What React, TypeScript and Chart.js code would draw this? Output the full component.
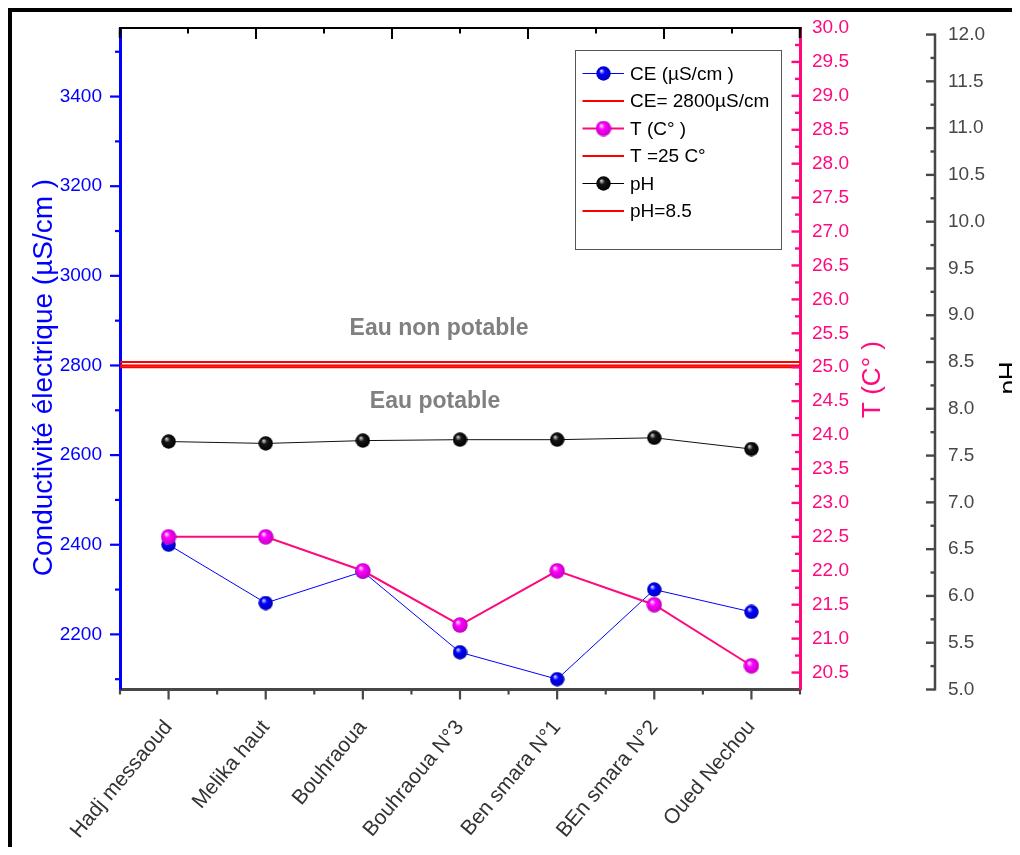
import { useEffect, useRef } from 'react';
import { Chart, registerables } from 'chart.js';

Chart.register(...registerables);

// Sampling sites along the x axis
const sites = [
  'Hadj messaoud',
  'Melika haut',
  'Bouhraoua',
  'Bouhraoua N°3',
  'Ben smara N°1',
  'BEn smara N°2',
  'Oued Nechou',
];

// Measured parameters per site
const ceValues = [2400, 2270, 2340, 2160, 2100, 2300, 2250];
const tempValues = [22.5, 22.5, 22.0, 21.2, 22.0, 21.5, 20.6];
const phValues = [7.65, 7.63, 7.66, 7.67, 7.67, 7.69, 7.57];

// Potability limits
const ceLimit = 2800;
const tempLimit = 25;
const phLimit = 8.5;

// Labelled tick values of the three vertical axes
const ceTicks = [2200, 2400, 2600, 2800, 3000, 3200, 3400];
const tempTicks = [20.5, 21.0, 21.5, 22.0, 22.5, 23.0, 23.5, 24.0, 24.5, 25.0, 25.5, 26.0, 26.5, 27.0, 27.5, 28.0, 28.5, 29.0, 29.5, 30.0];
const phTicks = [5.0, 5.5, 6.0, 6.5, 7.0, 7.5, 8.0, 8.5, 9.0, 9.5, 10.0, 10.5, 11.0, 11.5, 12.0];

// Legend entries
const legendLabels = ['CE (µS/cm )', 'CE= 2800µS/cm', 'T (C° )', 'T =25 C°', 'pH', 'pH=8.5'];

const FONT = '"Liberation Sans", Arial, sans-serif';
const BLUE = '#0000ff';
const PINK = '#ff0a7e';
const RED = '#ff0000';
const AXIS_GREY = '#474747';

function sphere(hi: string, body: string, edge: string, size: number) {
  const c = document.createElement('canvas');
  c.width = size;
  c.height = size;
  const g = c.getContext('2d')!;
  const r = size / 2;
  const grad = g.createRadialGradient(r * 0.7, r * 0.62, r * 0.05, r, r, r);
  grad.addColorStop(0, hi);
  grad.addColorStop(0.35, body);
  grad.addColorStop(1, edge);
  g.fillStyle = grad;
  g.beginPath();
  g.arc(r, r, r - 0.3, 0, Math.PI * 2);
  g.fill();
  return c;
}

function minorsBetween(majors: number[]) {
  const step = majors[1] - majors[0];
  const out: number[] = [majors[0] - step / 2];
  for (let i = 0; i < majors.length; i++) out.push(majors[i] + step / 2);
  return out;
}

// Fixed-size axis boxes so the plot area lands where it should
const fixWidth = (w: number) => (s: any) => {
  s.width = w;
  s.paddingTop = 0;
  s.paddingBottom = 0;
};

export default function App() {
  const ref = useRef<HTMLCanvasElement>(null);

  useEffect(() => {
    const canvas = ref.current!;
    Chart.defaults.font.family = FONT;

    const blueBall = sphere('#d8d8ff', '#0000ff', '#0000b0', 15);
    const pinkBall = sphere('#ffe0ff', '#ff00ff', '#c000c0', 16);
    const blackBall = sphere('#d0d0d0', '#151515', '#000000', 15);

    const pts = (vals: number[]) => vals.map((v, i) => ({ x: i, y: v }));
    const span = (v: number) => [
      { x: -0.5, y: v },
      { x: sites.length - 0.5, y: v },
    ];

    const decor = {
      id: 'decor',
      afterDraw(chart: any) {
        const { ctx, chartArea: a, scales } = chart;
        const sx = scales.x;
        const sCE = scales.y;
        const sT = scales.yT;
        const sPH = scales.yPH;
        ctx.save();

        const seg = (x1: number, y1: number, x2: number, y2: number, color: string, w: number) => {
          ctx.strokeStyle = color;
          ctx.lineWidth = w;
          ctx.beginPath();
          ctx.moveTo(x1, y1);
          ctx.lineTo(x2, y2);
          ctx.stroke();
        };

        // top frame line and corners
        seg(a.left - 1, a.top, a.right + 1.5, a.top, '#000', 2);
        seg(a.left, a.top, a.left, a.top + 10, '#000', 2.5);
        seg(a.right, a.top, a.right, a.top + 10, '#000', 2.5);

        // top axis ticks (ten equal divisions)
        for (let k = 1; k < 10; k++) {
          const px = sx.getPixelForValue(-0.5 + (k * sites.length) / 10);
          seg(px, a.top, px, a.top + (k % 2 === 0 ? 11 : 5.5), '#000', 2);
        }

        // bottom axis ticks
        sites.forEach((_, i) => {
          const px = sx.getPixelForValue(i);
          seg(px, a.bottom, px, a.bottom + 10, AXIS_GREY, 2.2);
        });
        for (let i = 0; i <= sites.length; i++) {
          const px = sx.getPixelForValue(i - 0.5);
          seg(px, a.bottom, px, a.bottom + 5, AXIS_GREY, 2.2);
        }

        // CE axis ticks (outward)
        ceTicks.forEach((v) => {
          const py = sCE.getPixelForValue(v);
          seg(a.left - 10, py, a.left, py, BLUE, 2.2);
        });
        minorsBetween(ceTicks).forEach((v) => {
          const py = sCE.getPixelForValue(v);
          if (py > a.top + 10 && py < a.bottom - 2) seg(a.left - 5, py, a.left, py, BLUE, 2.2);
        });

        // temperature axis ticks (inward)
        tempTicks.forEach((v) => {
          const py = sT.getPixelForValue(v);
          if (py > a.top + 10) seg(a.right - 8.5, py, a.right, py, PINK, 2.4);
        });
        minorsBetween(tempTicks).forEach((v) => {
          const py = sT.getPixelForValue(v);
          if (py > a.top + 10 && py < a.bottom - 4) seg(a.right - 5, py, a.right, py, PINK, 2.4);
        });

        // pH axis line and ticks
        const phX = sPH.left;
        const phTop = sPH.getPixelForValue(phTicks[phTicks.length - 1]);
        seg(phX, phTop - 1, phX, sPH.getPixelForValue(phTicks[0]) + 1, AXIS_GREY, 2.5);
        phTicks.forEach((v) => {
          const py = sPH.getPixelForValue(v);
          seg(phX - 9, py, phX, py, AXIS_GREY, 2.4);
        });
        minorsBetween(phTicks).forEach((v) => {
          const py = sPH.getPixelForValue(v);
          if (py > phTop && py < a.bottom) seg(phX - 4.5, py, phX, py, AXIS_GREY, 2.4);
        });

        // axis titles
        const vText = (text: string, x: number, y: number, color: string, size: number) => {
          ctx.save();
          ctx.translate(x, y);
          ctx.rotate(-Math.PI / 2);
          ctx.fillStyle = color;
          ctx.font = `${size}px ${FONT}`;
          ctx.textAlign = 'center';
          ctx.textBaseline = 'alphabetic';
          ctx.fillText(text, 0, 0);
          ctx.restore();
        };
        vText('Conductivité électrique (µS/cm )', 39.5, 365.5, BLUE, 28);
        vText('T (C° )', 868, 367.5, PINK, 26);
        vText('pH', 1005, 366, '#000', 26);

        // zone annotations
        ctx.fillStyle = '#808080';
        ctx.font = `bold 23px ${FONT}`;
        ctx.textAlign = 'center';
        ctx.textBaseline = 'middle';
        ctx.fillText('Eau non potable', 427, 317);
        ctx.fillText('Eau potable', 423, 390);

        // legend box
        const lx = 563;
        const ly = 38;
        ctx.fillStyle = '#fff';
        ctx.fillRect(lx, ly, 206, 199);
        ctx.strokeStyle = '#555';
        ctx.lineWidth = 1;
        ctx.strokeRect(lx + 0.5, ly + 0.5, 206, 199);
        const rows = [
          { color: BLUE, w: 1, ball: blueBall },
          { color: RED, w: 2, ball: null },
          { color: PINK, w: 2, ball: pinkBall },
          { color: RED, w: 2, ball: null },
          { color: '#000', w: 1, ball: blackBall },
          { color: RED, w: 2, ball: null },
        ];
        rows.forEach((r, i) => {
          const y = 61.5 + i * 27.5;
          if (r.ball) {
            seg(570.5, y, 585, y, r.color, r.w);
            seg(598, y, 612, y, r.color, r.w);
            ctx.drawImage(r.ball, 591.5 - r.ball.width / 2, y - r.ball.height / 2);
          } else {
            seg(570.5, y, 612, y, r.color, r.w);
          }
          ctx.fillStyle = '#000';
          ctx.font = `19px ${FONT}`;
          ctx.textAlign = 'left';
          ctx.textBaseline = 'middle';
          ctx.fillText(legendLabels[i], 618, y + 1);
        });

        ctx.restore();
      },
    };

    const chart = new Chart(canvas, {
      type: 'line',
      data: {
        datasets: [
          {
            label: legendLabels[0],
            data: pts(ceValues),
            yAxisID: 'y',
            borderColor: BLUE,
            borderWidth: 1,
            pointStyle: blueBall as any,
            pointRadius: 7,
            order: 1,
          },
          {
            label: legendLabels[1],
            data: span(ceLimit),
            yAxisID: 'y',
            borderColor: RED,
            borderWidth: 2,
            pointRadius: 0,
            order: 3,
          },
          {
            label: legendLabels[2],
            data: pts(tempValues),
            yAxisID: 'yT',
            borderColor: PINK,
            borderWidth: 2,
            pointStyle: pinkBall as any,
            pointRadius: 8,
            order: 0,
          },
          {
            label: legendLabels[3],
            data: span(tempLimit),
            yAxisID: 'yT',
            borderColor: RED,
            borderWidth: 2,
            pointRadius: 0,
            order: 3,
          },
          {
            label: legendLabels[4],
            data: pts(phValues),
            yAxisID: 'yPH',
            borderColor: '#111',
            borderWidth: 1,
            pointStyle: blackBall as any,
            pointRadius: 7,
            order: 2,
          },
          {
            label: legendLabels[5],
            data: span(phLimit),
            yAxisID: 'yPH',
            borderColor: RED,
            borderWidth: 2,
            pointRadius: 0,
            order: 3,
          },
        ],
      },
      options: {
        animation: false,
        responsive: false,
        devicePixelRatio: 1,
        layout: { padding: { top: 16, left: 0, right: 0, bottom: 0 } },
        plugins: { legend: { display: false }, tooltip: { enabled: false } },
        scales: {
          x: {
            type: 'linear',
            position: 'bottom',
            min: -0.5,
            max: sites.length - 0.5,
            afterBuildTicks: (s: any) => {
              s.ticks = sites.map((_, i) => ({ value: i }));
            },
            afterFit: (s: any) => {
              s.height = 157.5;
              s.paddingLeft = 0;
              s.paddingRight = 0;
            },
            ticks: {
              autoSkip: false,
              minRotation: 50,
              maxRotation: 50,
              padding: 26,
              color: '#333',
              font: { size: 21 },
              callback: (v: any) => sites[Math.round(Number(v))] ?? '',
            },
            grid: { drawOnChartArea: false, drawTicks: false },
            border: { color: AXIS_GREY, width: 3 },
          },
          y: {
            type: 'linear',
            position: 'left',
            min: 2077,
            max: 3553,
            afterBuildTicks: (s: any) => {
              s.ticks = ceTicks.map((v) => ({ value: v }));
            },
            afterFit: fixWidth(108),
            ticks: { padding: 18, color: BLUE, font: { size: 19 }, callback: (v: any) => String(v) },
            grid: { drawOnChartArea: false, drawTicks: false },
            border: { color: BLUE, width: 3 },
          },
          yT: {
            type: 'linear',
            position: 'right',
            weight: 0,
            min: 20.25,
            max: 30,
            afterBuildTicks: (s: any) => {
              s.ticks = tempTicks.map((v) => ({ value: v }));
            },
            afterFit: fixWidth(135),
            ticks: { padding: 12, color: PINK, font: { size: 19 }, callback: (v: any) => Number(v).toFixed(1) },
            grid: { drawOnChartArea: false, drawTicks: false },
            border: { color: PINK, width: 3 },
          },
          yPH: {
            type: 'linear',
            position: 'right',
            weight: 1,
            min: 5,
            max: 12.07,
            afterBuildTicks: (s: any) => {
              s.ticks = phTicks.map((v) => ({ value: v }));
            },
            afterFit: fixWidth(85),
            ticks: { padding: 13, color: AXIS_GREY, font: { size: 19 }, callback: (v: any) => Number(v).toFixed(1) },
            grid: { display: false, drawOnChartArea: false, drawTicks: false },
            border: { display: false },
          },
        },
      },
      plugins: [decor],
    } as any);

    return () => chart.destroy();
  }, []);

  return (
    <div style={{ borderLeft: '4px solid #000', borderTop: '4px solid #000', width: 1008, height: 835 }}>
      <canvas ref={ref} width={1008} height={835} style={{ display: 'block', width: 1008, height: 835 }} />
    </div>
  );
}
